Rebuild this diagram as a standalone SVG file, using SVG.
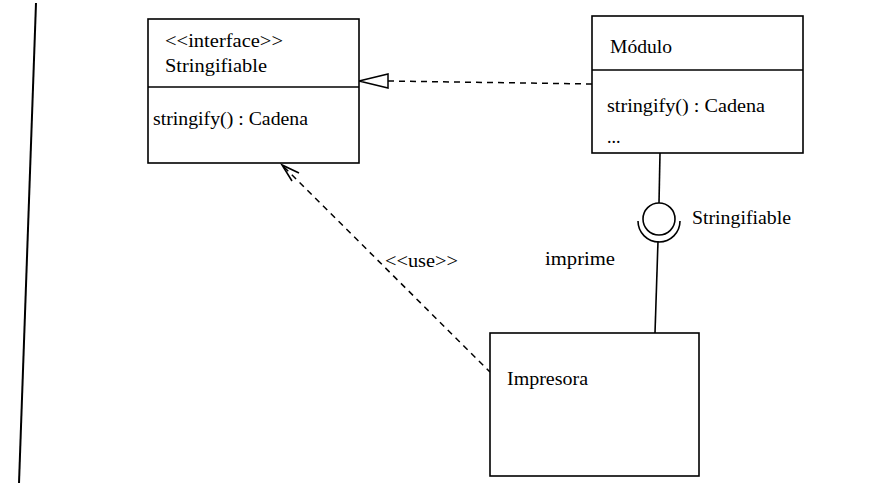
<svg xmlns="http://www.w3.org/2000/svg" width="889" height="483" viewBox="0 0 889 483">
<style>
  .box { fill: #fff; stroke: #000; stroke-width: 1.6; }
  .ln { fill: none; stroke: #000; stroke-width: 1.6; }
  .dash { fill: none; stroke: #000; stroke-width: 1.5; stroke-dasharray: 6 5; }
  text { font-family: "Liberation Serif", "Times New Roman", serif; font-size: 18px; fill: #000; }
</style>
<rect width="889" height="483" fill="#fff"/>
<line x1="36" y1="3" x2="19" y2="483" stroke="#000" stroke-width="2"/>

<g id="connectors">
  <!-- realization -->
  <line class="dash" x1="388" y1="81" x2="592" y2="84"/>
  <polygon points="359,81 388,74 388,88" fill="#fff" stroke="#000" stroke-width="1.5"/>
  <!-- use dependency -->
  <line class="dash" x1="284" y1="167" x2="490" y2="372"/>
  <polyline class="ln" points="299,173 282,165 292,181"/>
  <text x="385" y="267" textLength="73" lengthAdjust="spacingAndGlyphs">&lt;&lt;use&gt;&gt;</text>
  <!-- lollipop / socket -->
  <line class="ln" x1="660" y1="153" x2="659" y2="203"/>
  <circle cx="659" cy="219" r="16" class="ln"/>
  <path class="ln" d="M638,221 A21,21 0 0 0 680,221"/>
  <line class="ln" x1="658" y1="241" x2="655" y2="333"/>
  <text x="692" y="224" textLength="99" lengthAdjust="spacingAndGlyphs">Stringifiable</text>
  <text x="545" y="265" textLength="70" lengthAdjust="spacingAndGlyphs">imprime</text>
</g>

<g id="stringifiable">
  <rect class="box" x="148" y="19" width="211" height="144"/>
  <line class="ln" x1="148" y1="87" x2="359" y2="87"/>
  <text x="165" y="47" textLength="118" lengthAdjust="spacingAndGlyphs">&lt;&lt;interface&gt;&gt;</text>
  <text x="165" y="72" textLength="102" lengthAdjust="spacingAndGlyphs">Stringifiable</text>
  <text x="153" y="125" textLength="155" lengthAdjust="spacingAndGlyphs">stringify() : Cadena</text>
</g>

<g id="modulo">
  <rect class="box" x="592" y="16" width="211" height="137"/>
  <line class="ln" x1="592" y1="70" x2="803" y2="70"/>
  <text x="610" y="53" textLength="62" lengthAdjust="spacingAndGlyphs">Módulo</text>
  <text x="607" y="112" textLength="158" lengthAdjust="spacingAndGlyphs">stringify() : Cadena</text>
  <text x="607" y="143">...</text>
</g>

<g id="impresora">
  <rect class="box" x="490" y="333" width="209" height="143"/>
  <text x="507" y="385" textLength="81" lengthAdjust="spacingAndGlyphs">Impresora</text>
</g>
</svg>
